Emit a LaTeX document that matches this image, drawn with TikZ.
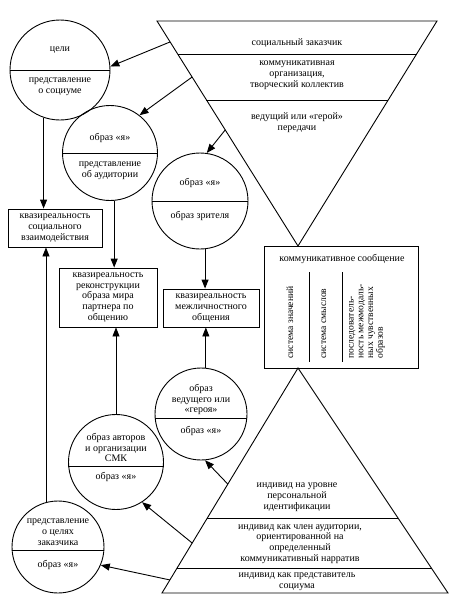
\documentclass[tikz,border=0pt]{standalone}
\usepackage{fontspec}
\setmainfont{Liberation Serif}
\usetikzlibrary{arrows.meta,calc}

\begin{document}
\begin{tikzpicture}[x=1pt,y=-1pt,line width=0.9pt,
	arr/.style={-{Triangle[length=9pt,width=7pt]}},
	circ/.style={draw,circle,inner sep=0pt},
	box/.style={draw,rectangle,align=center,inner sep=2pt,font=\fontsize{10}{10.8}\selectfont},
	txt/.style={align=center,inner sep=0pt,font=\fontsize{10}{10.8}\selectfont},
	vtxt/.style={rotate=90,anchor=west,align=left,inner sep=0pt,font=\fontsize{9.6}{9.7}\selectfont}]

	\useasboundingbox (0,0) rectangle (452,606);

	% upper triangle
	\coordinate (tl) at (157,21);
	\coordinate (tr) at (437,21);
	\coordinate (ta) at (298,246);
	\draw (tl) -- (tr) -- (ta) -- cycle;
	\draw ($(tl)!0.147!(ta)$) -- ($(tr)!0.147!(ta)$);
	\draw ($(tl)!0.351!(ta)$) -- ($(tr)!0.351!(ta)$);
	\node[txt] (client) at (297,43) {социальный заказчик};
	\node[txt] (team) at (297,75) {коммуникативная\\организация,\\творческий коллектив};
	\node[txt] (host) at (297,123) {ведущий или «герой»\\передачи};
	\coordinate (t1) at ($(tl)!0.093!(ta)$);
	\coordinate (t2) at ($(tl)!0.249!(ta)$);
	\coordinate (t3) at ($(tl)!0.484!(ta)$);

	% lower triangle
	\coordinate (ba) at (298,368);
	\coordinate (bl) at (162,593);
	\coordinate (br) at (448,593);
	\draw (ba) -- (br) -- (bl) -- cycle;
	\draw ($(ba)!0.667!(bl)$) -- ($(ba)!0.667!(br)$);
	\draw ($(ba)!0.893!(bl)$) -- ($(ba)!0.893!(br)$);
	\node[txt] (person) at (297,497.5) {индивид на уровне\\персональной\\идентификации};
	\node[txt] (member) at (300,544) {индивид как член аудитории,\\ориентированной на\\определенный\\коммуникативный нарратив};
	\node[txt] (society) at (297,582) {индивид как представитель\\социума};
	\coordinate (b1) at ($(ba)!0.516!(bl)$);
	\coordinate (b2) at ($(ba)!0.778!(bl)$);
	\coordinate (b3) at ($(ba)!0.942!(bl)$);

	% message
	\node[draw,minimum width=154pt,minimum height=122pt,inner sep=0pt] (msg) at (341,307) {};
	\node[txt] (msgT) at (342,259) {коммуникативное сообщение};
	\draw (309,272) -- (309,362);
	\draw (342,272) -- (342,362);
	\node[vtxt] (meanings) at (290,359) {система значений};
	\node[vtxt] (senses) at (324,359) {система смыслов};
	\node[vtxt] (images) at (367,359) {последователь-\\ность межмодаль-\\ных чувственных\\образов};

	% circles
	\node[circ,minimum size=100pt] (goals) at (60,70) {};
	\draw (goals.west) -- (goals.east);
	\node[txt] (goalsA) at (60,50) {цели};
	\node[txt] (goalsB) at (60,87) {представление\\о социуме};

	\node[circ,minimum size=95pt] (aud) at (110,153) {};
	\draw (aud.west) -- (aud.east);
	\node[txt] (audA) at (110,138) {образ «я»};
	\node[txt] (audB) at (110,171) {представление\\об аудитории};

	\node[circ,minimum size=96pt] (viewer) at (200,201) {};
	\draw (viewer.west) -- (viewer.east);
	\node[txt] (viewerA) at (200,183) {образ «я»};
	\node[txt] (viewerB) at (200,216) {образ зрителя};

	\node[circ,minimum size=92pt] (hero) at (201,414) {};
	\draw (hero.185) -- (hero.-5);
	\node[txt] (heroA) at (201,399.5) {образ\\ведущего или\\«героя»};
	\node[txt] (heroB) at (201,431) {образ «я»};

	\node[circ,minimum size=95pt] (smk) at (116,462) {};
	\draw (smk.185) -- (smk.-5);
	\node[txt] (smkA) at (116,447.5) {образ авторов\\и организации\\СМК};
	\node[txt] (smkB) at (116,477) {образ «я»};

	\node[circ,minimum size=92pt] (aims) at (58,547) {};
	\draw (aims.184) -- (aims.-4);
	\node[txt] (aimsA) at (58,532) {представление\\о целях\\заказчика};
	\node[txt] (aimsB) at (58,565) {образ «я»};

	% quasi-realities
	\node[box,minimum width=94pt,minimum height=38pt] (social) at (55,228) {квазиреальность\\социального\\взаимодействия};
	\node[box,minimum width=98pt,minimum height=59pt] (partner) at (108,297.5) {квазиреальность\\реконструкции\\образа мира\\партнера по\\общению};
	\node[box,minimum width=96pt,minimum height=38pt] (inter) at (211,308) {квазиреальность\\межличностного\\общения};

	% arrows
	\draw[arr] (t1) -- (goals.4);
	\draw[arr] (t2) -- (aud.52);
	\draw[arr] (t3) -- (viewer.82);
	\draw[arr] (b1) -- (hero.-85);
	\draw[arr] (b2) -- (smk.-57);
	\draw[arr] (b3) -- (aims.-23);

	\draw[arr] (goals.-109) -- (goals.-109 |- social.north);
	\draw[arr] (aud.-85) -- (aud.-85 |- partner.north);
	\draw[arr] (viewer.-84) -- (viewer.-84 |- inter.north);
	\draw[arr] (aims.105) -- (aims.105 |- social.south);
	\draw[arr] (smk.north) -- (smk.north |- partner.south);
	\draw[arr] (hero.84) -- (hero.84 |- inter.south);
\end{tikzpicture}
\end{document}
